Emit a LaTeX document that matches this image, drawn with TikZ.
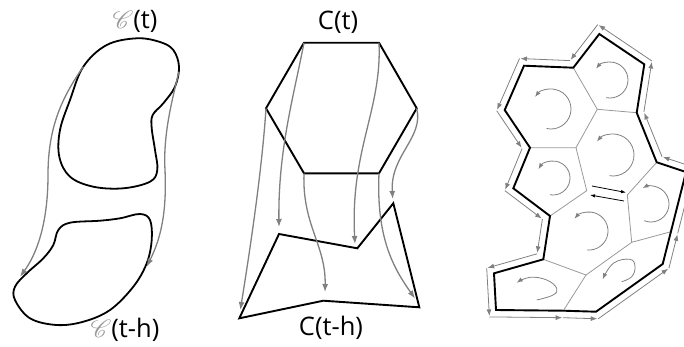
\documentclass[tikz,border=0pt]{standalone}
\usepackage{fontspec}
\setmainfont{Open Sans}
\usepackage{mathrsfs}
\usetikzlibrary{arrows.meta}
\definecolor{garrow}{HTML}{808080}
\definecolor{gedge}{HTML}{999999}
\begin{document}
\begin{tikzpicture}[x=1pt,y=-1pt,
  blob/.style={line width=1.8pt, black, line join=round},
  garr/.style={draw=garrow, line width=1.3pt, -{Latex[length=8pt,width=6pt]}},
  bnd/.style={line width=1.9pt, black, line join=miter},
  inedge/.style={draw=gedge, line width=0.8pt},
  rarr/.style={draw=garrow, line width=0.8pt, -{Latex[length=6.5pt,width=5pt]}, shorten >=1pt},
  carc/.style={draw=garrow, line width=0.8pt, -{Latex[length=6pt,width=4.5pt]}},
  barr/.style={draw=black, line width=0.8pt, -{Latex[length=5pt,width=3.5pt]}},
  lbl/.style={font=\fontsize{25.5}{30}\selectfont, inner sep=0pt}]
\useasboundingbox (0,0) rectangle (684,346);

% ---------------- left panel ----------------
\draw[blob] plot[smooth cycle, tension=0.6] coordinates {(136.7,38.3) (160,42) (173.3,50) (179,66.7) (175,86.7) (163.3,103.3) (152.7,115) (151.7,128) (155,150) (157.3,170) (150,181.7) (123.3,188.3) (93.3,186.7) (70,176.7) (59.3,156.7) (60,130) (70,100) (83.3,66.7) (106.7,45)};
\draw[blob] plot[smooth cycle, tension=0.6] coordinates {(53.3,245) (58.3,230) (70,222.7) (100,220.7) (120,218.3) (140,214) (150,220) (151.7,240) (146.7,263.3) (133.3,286.7) (110,310) (83.3,321.7) (56.7,325) (30,318.3) (15,300) (15,286.7) (26.7,273.3) (43.3,258.3)};
\coordinate (ua) at (83.3,66.7);
\coordinate (ub) at (179,71.7);
\coordinate (la) at (20,276.7);
\coordinate (lb) at (146.7,266.7);
\draw[garr] (ua) .. controls (60,100) and (48,130) .. (48,175) .. controls (48,225) and (36,255) .. (la);
\draw[garr] (ub) .. controls (172,100) and (163,135) .. (165,170) .. controls (167,215) and (160,240) .. (lb);
\node[lbl] (sct) at (135,21) {{\color{gray!80}$\mathscr{C}$}(t)};
\node[lbl] (scth) at (125,330) {{\color{gray!80}$\mathscr{C}$}(t-h)};

% ---------------- middle panel ----------------
\coordinate (A1) at (304,42.7);
\coordinate (A2) at (379,42.7);
\coordinate (A3) at (416.7,108.3);
\coordinate (A4) at (379,173.3);
\coordinate (A5) at (304,173.3);
\coordinate (A6) at (266,108.3);
\coordinate (B1) at (239.3,318.3);
\coordinate (B2) at (279,234);
\coordinate (B3) at (357.3,248.3);
\coordinate (B4) at (393.3,203.3);
\coordinate (B5) at (419.3,307.3);
\coordinate (B6) at (323.3,300.7);
\coordinate (T1) at (240.3,310);
\coordinate (T2) at (279,227);
\coordinate (T3) at (355,244);
\coordinate (T4) at (392.7,199);
\coordinate (T5) at (415,298.5);
\coordinate (T6) at (325,292);
\draw[bnd] (A1) -- (A2) -- (A3) -- (A4) -- (A5) -- (A6) -- cycle;
\draw[bnd] (B1) -- (B2) -- (B3) -- (B4) -- (B5) -- (B6) -- cycle;
\draw[garr] (A6) .. controls (262,170) and (250,250) .. (T1);
\draw[garr] (A1) .. controls (294,95) and (278,150) .. (T2);
\draw[garr] (A5) .. controls (302,225) and (326,245) .. (T6);
\draw[garr] (A2) .. controls (382,110) and (350,150) .. (T3);
\draw[garr] (A3) .. controls (424,138) and (390,155) .. (T4);
\draw[garr] (A4) .. controls (376,240) and (395,270) .. (T5);
\node[lbl] (ct) at (338,22) {C(t)};
\node[lbl] (cth) at (331,328) {C(t-h)};

% ---------------- right panel ----------------
\begin{scope}
\clip (470,0) rectangle (684,346);
\coordinate (P1) at (599.3,34);
\coordinate (P2) at (644.3,64.3);
\coordinate (P3) at (636.7,112.7);
\coordinate (P4) at (656.7,162.3);
\coordinate (P5) at (686,172);
\coordinate (Q7) at (670.9,231.7);
\coordinate (P6) at (662.7,264);
\coordinate (P7) at (596,311.7);
\coordinate (P8) at (563.3,310.7);
\coordinate (P9) at (496,310);
\coordinate (P10) at (494,273.3);
\coordinate (P11) at (543.3,259.3);
\coordinate (P12) at (550,216);
\coordinate (P13) at (513.3,188.3);
\coordinate (P14) at (530,147.7);
\coordinate (P15) at (504.7,110);
\coordinate (P16) at (524,65.7);
\coordinate (P17) at (573.3,67.7);
\coordinate (Q1) at (597.3,109.3);
\coordinate (Q2) at (576,147.7);
\coordinate (Q3) at (586.7,190.7);
\coordinate (Q4) at (627.3,195);
\coordinate (Q5) at (631.7,242.3);
\coordinate (Q6) at (586,275);
% inner edges
\draw[inedge] (P17) -- (Q1) -- (P3);
\draw[inedge] (Q1) -- (Q2) -- (P14);
\draw[inedge] (Q2) -- (Q3) -- (P12);
\draw[inedge] (Q4) -- (P4);
\draw[inedge] (Q4) -- (Q5) -- (Q7);
\draw[inedge] (Q5) -- (Q6) -- (P11);
\draw[inedge] (Q6) -- (P8);
% boundary
\draw[bnd] (P1) -- (P2) -- (P3) -- (P4) -- (P5) -- (Q7) -- (P6) -- (P7) -- (P8) -- (P9) -- (P10) -- (P11) -- (P12) -- (P13) -- (P14) -- (P15) -- (P16) -- (P17) -- cycle;
% offset path
\coordinate (G1) at (597.8,24.5);
\coordinate (G2) at (651.9,61.0);
\coordinate (G3) at (643.9,111.9);
\coordinate (G4) at (662.0,156.7);
\coordinate (G5) at (694.4,167.4);
\coordinate (GQ) at (677.7,233.4);
\coordinate (G6) at (668.9,268.2);
\coordinate (G7) at (598.2,318.8);
\coordinate (G8) at (563.2,317.7);
\coordinate (G9) at (489.4,316.9);
\coordinate (G10) at (486.7,268.1);
\coordinate (G11) at (537.1,253.8);
\coordinate (G12) at (542.4,219.1);
\coordinate (G13) at (504.8,190.6);
\coordinate (G14) at (522.1,148.5);
\coordinate (G15) at (496.7,110.7);
\coordinate (G16) at (519.5,58.5);
\coordinate (G17) at (570.0,60.6);
\draw[rarr] (G1) -- (G17);
\draw[rarr] (G17) -- (G16);
\draw[rarr] (G16) -- (G15);
\draw[rarr] (G15) -- (G14);
\draw[rarr] (G14) -- (G13);
\draw[rarr] (G13) -- (G12);
\draw[rarr] (G12) -- (G11);
\draw[rarr] (G11) -- (G10);
\draw[rarr] (G10) -- (G9);
\draw[rarr] (G9) -- (G8);
\draw[rarr] (G8) -- (G7);
\draw[rarr] (G7) -- (G6);
\draw[rarr] (G6) -- (GQ);
\draw[rarr] (GQ) -- (G5);
\draw[rarr] (G5) -- (G4);
\draw[rarr] (G4) -- (G3);
\draw[rarr] (G3) -- (G2);
\draw[rarr] (G2) -- (G1);
% circulation arcs
\draw[carc] ([shift={(102:18)}]610,80) arc[start angle=102, end angle=-141, radius=18];
\draw[carc] ([shift={(103:20)}]551,109) arc[start angle=103, end angle=-143, radius=20];
\draw[carc] ([shift={(100:21)}]613,155) arc[start angle=100, end angle=-140, radius=21];
\draw[carc] ([shift={(100:17)}]553,178) arc[start angle=100, end angle=-149, radius=17];
\draw[carc] ([shift={(112:18)}]651,204) arc[start angle=112, end angle=-118, radius=18];
\draw[carc] ([shift={(96:19)}]589,231) arc[start angle=96, end angle=-140, radius=19];
\draw[carc] plot[smooth, tension=0.7] coordinates {(621.7,281.7) (631.7,276.7) (635,266.7) (630,259.3) (613.3,263.3) (602.7,279.3)};
\draw[carc] plot[smooth, tension=0.7] coordinates {(536.7,300) (553,295) (556.7,288.3) (546.7,280) (530,277.3) (516.7,282.7)};
% cancelling arrows on shared edge
\coordinate (d1) at (592,186);
\coordinate (d2) at (626,192.5);
\coordinate (d3) at (624,201);
\coordinate (d4) at (590,195);
\draw[barr] (d1) -- (d2);
\draw[barr] (d3) -- (d4);
\end{scope}
\end{tikzpicture}
\end{document}
